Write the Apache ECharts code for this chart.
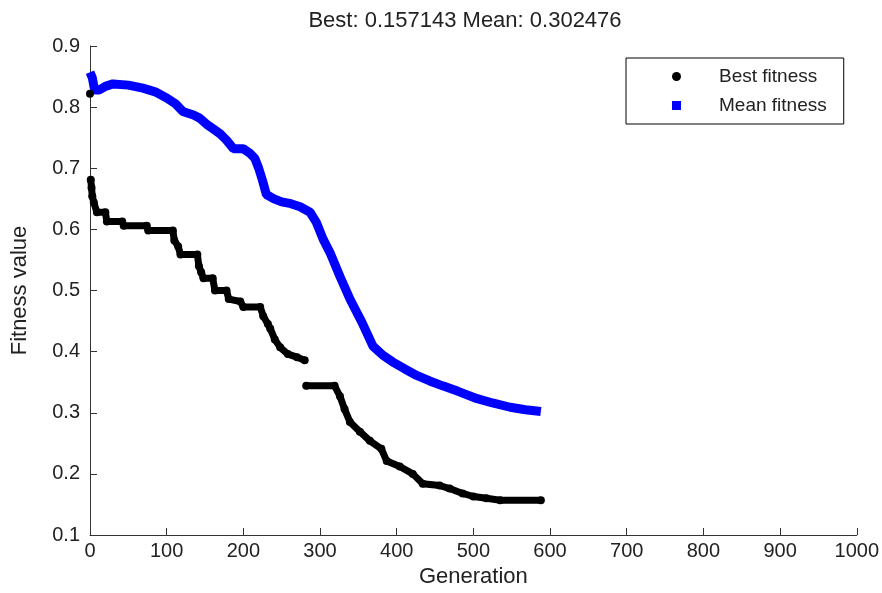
<!DOCTYPE html>
<html>
<head>
<meta charset="utf-8">
<script src="https://cdn.jsdelivr.net/npm/echarts@6/dist/echarts.min.js"></script>
<style>
  html, body { margin: 0; padding: 0; background: #fff; }
  #chart { width: 882px; height: 593px; }
</style>
</head>
<body>
<div id="chart"></div>
<script>
// generations / values (null = gap in the markers)
const bestGen = [0, null, 1, 2, 3, 5, 9, 20, 22, 42, 44, 74, 76, 108, 110, 115, 118, 140, 142, 145, 148, 160, 163, 178, 181, 196, 200, 222, 226, 232, 235, 241, 248, 258, 270, 280, null, 282, 319, 326, 332, 339, 352, 365, 380, 387, 404, 421, 434, 456, 469, 486, 500, 517, 535, 588];
const bestFit = [0.822, null, 0.681, 0.668, 0.654, 0.644, 0.628, 0.628, 0.613, 0.613, 0.606, 0.606, 0.598, 0.598, 0.582, 0.572, 0.559, 0.559, 0.540, 0.530, 0.520, 0.520, 0.500, 0.500, 0.486, 0.482, 0.473, 0.473, 0.458, 0.445, 0.438, 0.420, 0.407, 0.396, 0.391, 0.386, null, 0.344, 0.344, 0.327, 0.306, 0.285, 0.269, 0.254, 0.241, 0.221, 0.212, 0.200, 0.184, 0.181, 0.176, 0.168, 0.163, 0.160, 0.157, 0.157];

const meanGen = [0, 3, 6, 12, 20, 30, 50, 69, 85, 100, 112, 121, 135, 143, 152, 160, 170, 178, 187, 200, 208, 215, 220, 225, 230, 240, 250, 262, 274, 287, 295, 304, 313, 326, 339, 355, 369, 382, 395, 410, 426, 443, 460, 480, 505, 525, 548, 568, 588];
const meanFit = [0.857, 0.848, 0.828, 0.828, 0.834, 0.838, 0.836, 0.831, 0.825, 0.815, 0.805, 0.793, 0.787, 0.782, 0.772, 0.765, 0.756, 0.746, 0.732, 0.732, 0.725, 0.716, 0.700, 0.680, 0.657, 0.650, 0.645, 0.642, 0.637, 0.628, 0.612, 0.584, 0.562, 0.523, 0.486, 0.447, 0.409, 0.394, 0.383, 0.372, 0.361, 0.352, 0.344, 0.335, 0.323, 0.316, 0.309, 0.305, 0.302];

const titleText = "Best: 0.157143 Mean: 0.302476";
const legendNames = ["Best fitness", "Mean fitness"];

const pairs = (xs, ys) => xs.map((x, i) => (x === null ? ["-", "-"] : [x, ys[i]]));

const chart = echarts.init(document.getElementById("chart"));
const font = "Liberation Sans, Arial, sans-serif";
const txt = "#222";

chart.setOption({
  animation: false,
  title: {
    text: titleText,
    left: 460,
    top: 5,
    textAlign: "center",
    textStyle: { fontFamily: font, fontSize: 22, fontWeight: "normal", color: txt },
  },
  legend: {
    orient: "vertical",
    left: 626,
    top: 58,
    padding: [9, 17, 9, 46],
    itemGap: 10,
    itemWidth: 9,
    itemHeight: 9,
    borderColor: "#000",
    borderWidth: 1,
    backgroundColor: "#fff",
    textStyle: { fontFamily: font, fontSize: 19, color: txt, padding: [0, 0, 0, 33] },
    data: [
      { name: legendNames[0], icon: "circle" },
      { name: legendNames[1], icon: "rect" },
    ],
  },
  grid: { left: 90, right: 25, top: 46, bottom: 57 },
  xAxis: {
    type: "value",
    min: 0,
    max: 1000,
    interval: 100,
    name: "Generation",
    nameLocation: "middle",
    nameGap: 31,
    nameTextStyle: { fontFamily: font, fontSize: 22, color: txt },
    axisLine: { lineStyle: { color: "#333", width: 1 } },
    axisTick: { inside: true, length: 7, lineStyle: { color: "#333" } },
    axisLabel: { fontFamily: font, fontSize: 20, color: txt, margin: 6, formatter: (v) => String(v) },
    splitLine: { show: false },
  },
  yAxis: {
    type: "value",
    min: 0.1,
    max: 0.9,
    interval: 0.1,
    name: "Fitness value",
    nameLocation: "middle",
    nameGap: 59,
    nameTextStyle: { fontFamily: font, fontSize: 22, color: txt },
    axisLine: { show: true, lineStyle: { color: "#333", width: 1 } },
    axisTick: { show: true, inside: true, length: 7, lineStyle: { color: "#333" } },
    axisLabel: { fontFamily: font, fontSize: 20, color: txt, margin: 10, formatter: (v) => v.toFixed(1) },
    splitLine: { show: false },
  },
  series: [
    {
      name: legendNames[0],
      type: "line",
      data: pairs(bestGen, bestFit),
      connectNulls: false,
      symbol: "circle",
      symbolSize: 8,
      showAllSymbol: true,
      itemStyle: { color: "#000" },
      lineStyle: { color: "#000", width: 7 },
      z: 3,
    },
    {
      name: legendNames[1],
      type: "line",
      data: pairs(meanGen, meanFit),
      symbol: "rect",
      symbolSize: 7,
      showSymbol: false,
      itemStyle: { color: "#0000ff" },
      lineStyle: { color: "#0000ff", width: 9 },
      z: 2,
    },
  ],
});
</script>
</body>
</html>
